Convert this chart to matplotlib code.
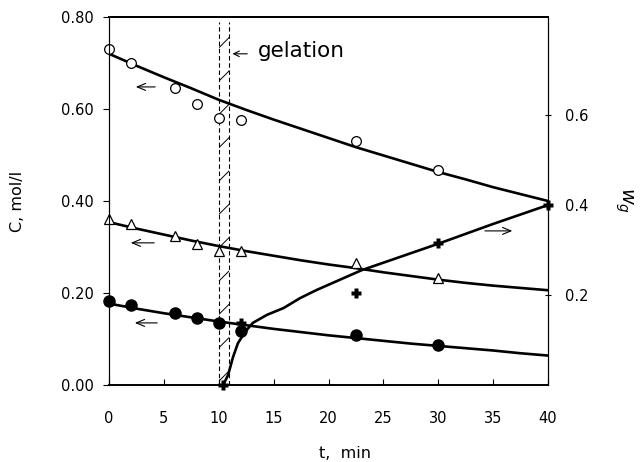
import matplotlib
matplotlib.use("Agg")
import matplotlib.pyplot as plt
from matplotlib.patches import Rectangle

plt.rcParams['font.family'] = ['DejaVu Sans']
plt.rcParams['hatch.linewidth'] = 0.7

# ---- data ----
t_open = [0, 2, 6, 8, 10, 12, 22.5, 30]
c_open = [0.730, 0.700, 0.646, 0.611, 0.580, 0.576, 0.530, 0.467]

t_tri = [0, 2, 6, 8, 10, 12, 22.5, 30]
c_tri = [0.361, 0.350, 0.324, 0.307, 0.291, 0.291, 0.265, 0.233]

t_fill = [0, 2, 6, 8, 10, 12, 22.5, 30]
c_fill = [0.183, 0.174, 0.157, 0.146, 0.135, 0.117, 0.109, 0.087]

t_cross = [10.4, 12, 22.5, 30, 40]
w_cross = [0.0, 0.138, 0.204, 0.316, 0.400]

t_fit = [0, 2.5, 5, 7.5, 10, 12.5, 15, 17.5, 20, 22.5, 25, 27.5, 30, 32.5, 35, 37.5, 40]
fit_open = [0.720, 0.694, 0.669, 0.645, 0.620, 0.598, 0.577, 0.557, 0.537, 0.517,
            0.499, 0.481, 0.463, 0.447, 0.430, 0.415, 0.400]
fit_tri = [0.354, 0.340, 0.327, 0.314, 0.302, 0.291, 0.281, 0.271, 0.262, 0.254,
           0.245, 0.237, 0.229, 0.222, 0.216, 0.211, 0.206]
fit_fill = [0.177, 0.166, 0.156, 0.147, 0.138, 0.130, 0.122, 0.115, 0.108, 0.102,
            0.096, 0.090, 0.085, 0.080, 0.075, 0.069, 0.064]

t_wfit = [10.4, 10.85, 11.3, 11.75, 12.4, 13.1, 14.4, 15.9, 17.4, 18.9, 23, 30, 35, 40]
w_wfit = [0.0, 0.022, 0.062, 0.093, 0.118, 0.138, 0.156, 0.171, 0.193, 0.211, 0.255,
          0.314, 0.358, 0.400]

gel_start, gel_end = 10.0, 10.9

x_ticks = [0, 5, 10, 15, 20, 25, 30, 35, 40]
y_ticks = [0.0, 0.2, 0.4, 0.6, 0.8]
y_ticklabels = ["0.00", "0.20", "0.40", "0.60", "0.80"]
w_ticks = [0.2, 0.4, 0.6]
w_ticklabels = ["0.2", "0.4", "0.6"]

# ---- figure ----
fig = plt.figure(figsize=(6.41, 4.62), dpi=100)
ax = fig.add_axes([109 / 641, 77 / 462, 439 / 641, 368 / 462])
ax2 = ax.twinx()

ax.set_xlim(0, 40)
ax.set_ylim(0, 0.80)
ax2.set_ylim(0, 0.818)

lw = 1.9
ax.plot(t_fit, fit_open, color='black', lw=lw, zorder=3)
ax.plot(t_fit, fit_tri, color='black', lw=lw, zorder=3)
ax.plot(t_fit, fit_fill, color='black', lw=lw, zorder=3)
ax2.plot(t_wfit, w_wfit, color='black', lw=lw, zorder=3)

ax.plot(t_open, c_open, linestyle='none', marker='o', ms=7, mfc='white',
        mec='black', mew=0.9, zorder=4, clip_on=False)
ax.plot(t_tri, c_tri, linestyle='none', marker='^', ms=7, mfc='white',
        mec='black', mew=0.9, zorder=4, clip_on=False)
ax.plot(t_fill, c_fill, linestyle='none', marker='o', ms=8, mfc='black',
        mec='black', zorder=4, clip_on=False)
ax2.plot(t_cross, w_cross, linestyle='none', marker='P', ms=7, mfc='black',
         mec='none', zorder=4, clip_on=False)

# gelation band
ytop = 0.789
ax.vlines([gel_start, gel_end], 0, ytop, colors='black', linestyles=(0, (4, 2.5)),
          lw=0.8, zorder=2)
ax.add_patch(Rectangle((gel_start, 0), gel_end - gel_start, ytop, fill=False,
                       hatch='/', ec='black', lw=0, zorder=1))

ax.annotate('', xy=(11.0, 0.720), xytext=(12.85, 0.720),
            arrowprops=dict(arrowstyle='->', lw=0.8, color='black'))
ax.text(13.58, 0.713, 'gelation', fontsize=15.5, va='baseline', ha='left')

arrow_kw = dict(arrowstyle='->,head_length=0.6,head_width=0.25', lw=0.8, color='black')
ax.annotate('', xy=(2.19, 0.648), xytext=(4.46, 0.648), arrowprops=arrow_kw)
ax.annotate('', xy=(1.73, 0.309), xytext=(4.37, 0.309), arrowprops=arrow_kw)
ax.annotate('', xy=(2.10, 0.135), xytext=(4.65, 0.135), arrowprops=arrow_kw)
ax.annotate('', xy=(37.0, 0.335), xytext=(34.0, 0.335), arrowprops=arrow_kw)

# axes styling
ax.set_xticks(x_ticks)
ax.set_yticks(y_ticks)
ax.set_yticklabels(y_ticklabels)
ax.tick_params(axis='x', direction='in', length=4, width=0.8, pad=19, labelsize=10.5)
ax.tick_params(axis='y', direction='out', length=4, width=0.8, pad=7, labelsize=10.5)
ax2.set_yticks(w_ticks)
ax2.set_yticklabels(w_ticklabels)
ax2.tick_params(axis='y', direction='inout', length=4, width=0.8, pad=10, labelsize=10.5)

for a in (ax, ax2):
    a.spines['left'].set_linewidth(0.8)
    a.spines['right'].set_linewidth(0.8)
    a.spines['bottom'].set_linewidth(1.2)
    a.spines['top'].set_linewidth(1.4)

fig.text(18 / 641, 1 - 201 / 462, 'C, mol/l', rotation=90, fontsize=11.5,
         ha='center', va='center')
fig.text(345 / 641, 1 - 453 / 462, 't,  min', fontsize=11.5, ha='center', va='center')
fig.text(624 / 641, 1 - 200 / 462, '$w_g$', rotation=-90, fontsize=14,
         ha='center', va='center')

fig.savefig('out.png', dpi=100)
